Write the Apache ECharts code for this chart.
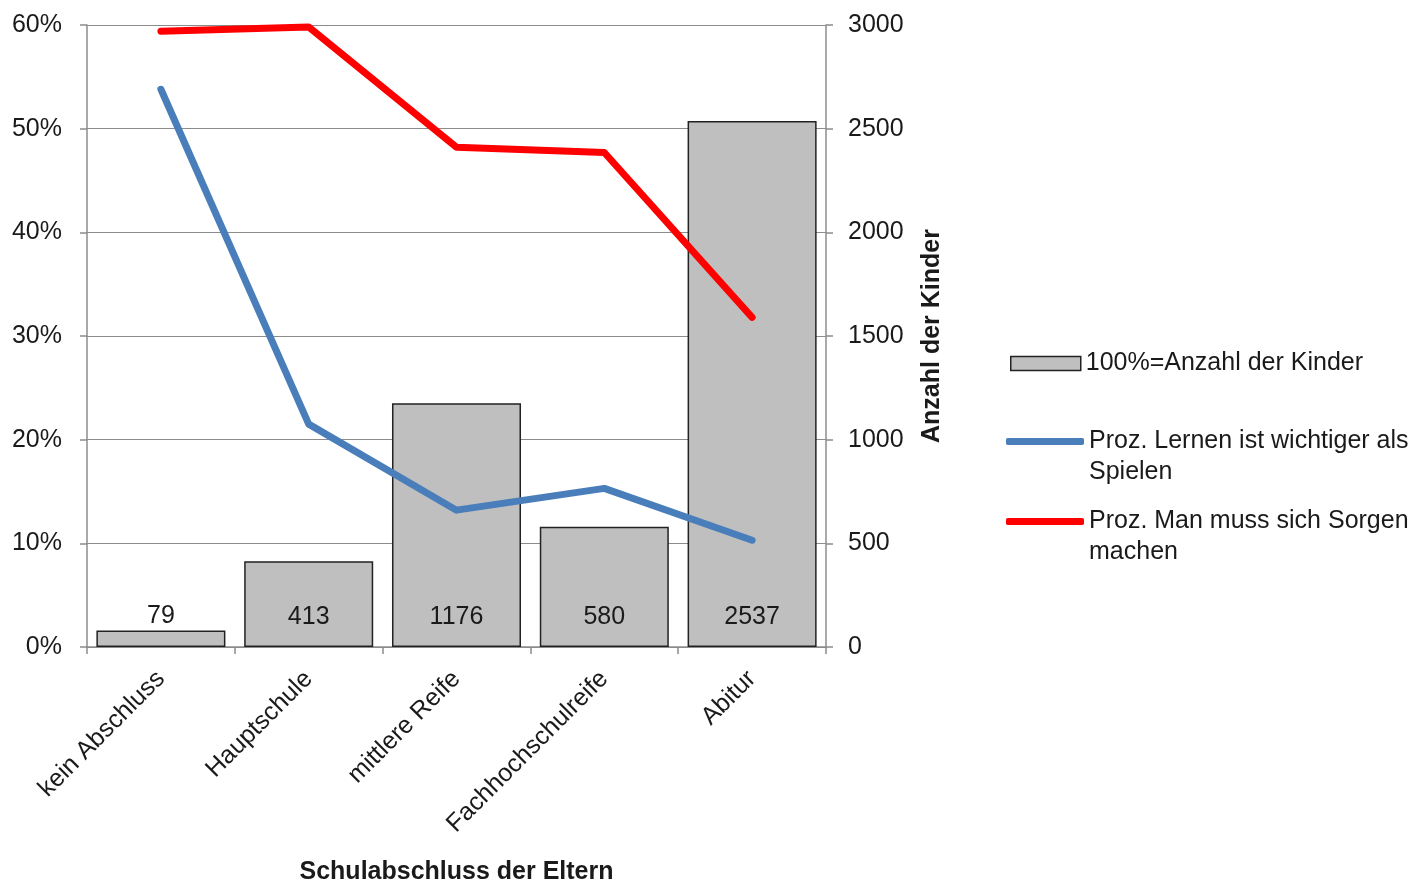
<!DOCTYPE html>
<html>
<head>
<meta charset="utf-8">
<script src="https://cdn.jsdelivr.net/npm/echarts@6/dist/echarts.min.js"></script>
<style>
  html, body { margin: 0; padding: 0; background: #fff; }
  #chart { width: 1420px; height: 881px; }
</style>
</head>
<body>
<div id="chart"></div>
<script>
// Schulabschluss der Eltern – Anzahl der Kinder und Anteile der Antworten
const categories = ['kein Abschluss', 'Hauptschule', 'mittlere Reife', 'Fachhochschulreife', 'Abitur'];
const kinderAnzahl = [79, 413, 1176, 580, 2537];
const lernenWichtiger = [53.8, 21.5, 13.2, 15.3, 10.3];
const sorgenMachen = [59.4, 59.8, 48.2, 47.7, 31.8];
const leftTicks = { min: 0, max: 60, interval: 10 };
const rightTicks = { min: 0, max: 3000, interval: 500 };

const FONT = 'Liberation Sans, Arial, sans-serif';
const FS = 25;
const GRAY = '#8c8c8c';
const TEXT = '#1a1a1a';

const chart = echarts.init(document.getElementById('chart'));

chart.setOption({
  animation: false,
  backgroundColor: '#fff',
  textStyle: { fontFamily: FONT },
  grid: { left: 87, right: 594, top: 25, bottom: 234, containLabel: false, outerBoundsMode: 'none' },
  legend: [
    {
      left: 1010, top: 351, padding: 0,
      itemWidth: 70, itemHeight: 14,
      icon: 'rect',
      data: [{ name: '100%=Anzahl der Kinder', itemStyle: { borderColor: '#222', borderWidth: 1.5 } }],
      textStyle: { fontSize: FS, color: TEXT, fontFamily: FONT }
    },
    {
      left: 1006, top: 395, padding: 0,
      itemWidth: 78, itemHeight: 7,
      icon: 'roundRect',
      data: ['Proz. Lernen ist wichtiger als\nSpielen'],
      // leading empty line keeps the icon level with the first text line
      formatter: name => '\n' + name,
      textStyle: { fontSize: FS, lineHeight: 31, color: TEXT, fontFamily: FONT }
    },
    {
      left: 1006, top: 475, padding: 0,
      itemWidth: 78, itemHeight: 7,
      icon: 'roundRect',
      data: ['Proz. Man muss sich Sorgen\nmachen'],
      formatter: name => '\n' + name,
      textStyle: { fontSize: FS, lineHeight: 31, color: TEXT, fontFamily: FONT }
    }
  ],
  xAxis: {
    type: 'category',
    data: categories,
    name: 'Schulabschluss der Eltern',
    nameLocation: 'middle',
    nameGap: 213,
    nameTextStyle: { fontSize: FS, fontWeight: 'bold', color: TEXT, fontFamily: FONT },
    axisLine: { lineStyle: { color: GRAY, width: 1.5 } },
    axisTick: { show: true, length: 7, alignWithLabel: false, lineStyle: { color: GRAY, width: 1.5 } },
    axisLabel: { rotate: 45, fontSize: FS, color: TEXT, margin: 28, interval: 0, fontFamily: FONT }
  },
  yAxis: [
    {
      type: 'value',
      min: leftTicks.min, max: leftTicks.max, interval: leftTicks.interval,
      position: 'left',
      axisLine: { show: true, lineStyle: { color: GRAY, width: 1.5 } },
      axisTick: { show: true, length: 7, lineStyle: { color: GRAY, width: 1.5 } },
      splitLine: { show: true, lineStyle: { color: GRAY, width: 1.2 } },
      axisLabel: { formatter: '{value}%', fontSize: FS, color: TEXT, margin: 25, fontFamily: FONT }
    },
    {
      type: 'value',
      min: rightTicks.min, max: rightTicks.max, interval: rightTicks.interval,
      position: 'right',
      name: 'Anzahl der Kinder',
      nameLocation: 'middle',
      nameRotate: 90,
      nameGap: 94,
      nameTextStyle: { fontSize: FS, fontWeight: 'bold', color: TEXT, fontFamily: FONT },
      axisLine: { show: true, lineStyle: { color: GRAY, width: 1.5 } },
      axisTick: { show: true, length: 7, lineStyle: { color: GRAY, width: 1.5 } },
      splitLine: { show: false },
      axisLabel: { formatter: v => String(v), fontSize: FS, color: TEXT, margin: 22, fontFamily: FONT }
    }
  ],
  series: [
    {
      name: '100%=Anzahl der Kinder',
      type: 'bar',
      yAxisIndex: 1,
      barCategoryGap: '12.7%',
      data: kinderAnzahl.map((v, i) => ({
        value: v,
        label: i === 0 ? { position: 'top', distance: 2 } : { position: 'insideBottom', distance: 17 }
      })),
      itemStyle: { color: '#bfbfbf', borderColor: '#222', borderWidth: 1.5 },
      label: { show: true, fontSize: FS, color: TEXT, fontFamily: FONT },
      z: 2
    },
    {
      name: 'Proz. Lernen ist wichtiger als\nSpielen',
      type: 'line',
      yAxisIndex: 0,
      data: lernenWichtiger,
      symbol: 'none',
      itemStyle: { color: '#4a7ebb' },
      lineStyle: { color: '#4a7ebb', width: 7, cap: 'round', join: 'round' },
      z: 3
    },
    {
      name: 'Proz. Man muss sich Sorgen\nmachen',
      type: 'line',
      yAxisIndex: 0,
      data: sorgenMachen,
      symbol: 'none',
      itemStyle: { color: '#ff0000' },
      lineStyle: { color: '#ff0000', width: 7, cap: 'round', join: 'round' },
      z: 4
    }
  ]
});
</script>
</body>
</html>
